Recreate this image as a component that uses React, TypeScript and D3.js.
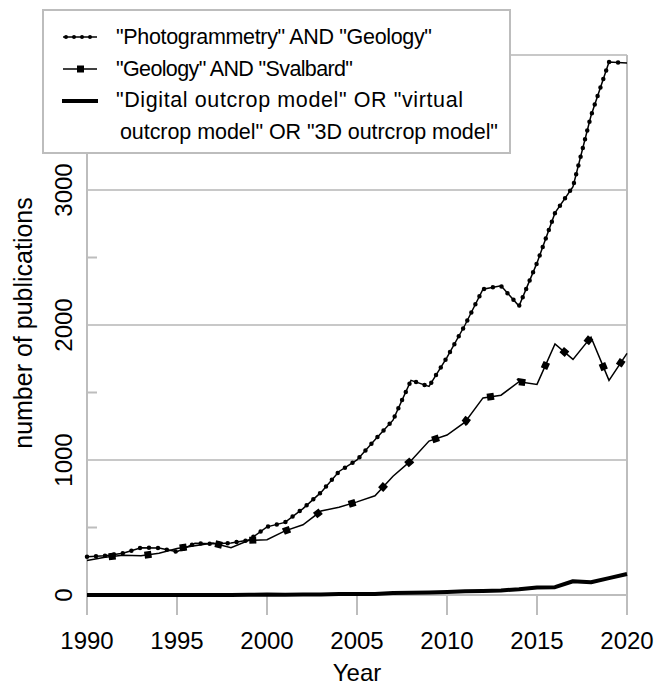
import * as d3 from 'd3'

const years = [
  1990, 1991, 1992, 1993, 1994, 1995, 1996, 1997, 1998, 1999, 2000, 2001, 2002, 2003, 2004, 2005,
  2006, 2007, 2008, 2009, 2010, 2011, 2012, 2013, 2014, 2015, 2016, 2017, 2018, 2019, 2020,
]
const photogrammetry = [
  284, 290, 310, 350, 348, 320, 383, 380, 385, 407, 505, 538, 640, 760, 915, 1000,
  1150, 1295, 1590, 1545, 1760, 2000, 2265, 2290, 2140, 2460, 2830, 3025, 3550, 3948, 3940,
]
const svalbard = [
  255, 280, 295, 290, 310, 345, 365, 385, 350, 405, 410, 475, 520, 622, 650, 690,
  735, 880, 995, 1140, 1185, 1280, 1460, 1480, 1580, 1560, 1860, 1745, 1910, 1590, 1790,
]
const outcrop = [
  0, 0, 0, 0, 0, 0, 0, 0, 0, 1, 3, 2, 3, 3, 8, 7,
  7, 15, 16, 18, 22, 28, 30, 34, 42, 55, 58, 102, 94, 125, 155,
]
const xTicks = [1990, 1995, 2000, 2005, 2010, 2015, 2020]
const yTicks = [0, 1000, 2000, 3000]
const yMinor = [500, 1500, 2500, 3500]
const legendLabels = [
  '"Photogrammetry" AND "Geology"',
  '"Geology" AND "Svalbard"',
  '"Digital outcrop model" OR "virtual',
  ' outcrop model" OR "3D outrcrop model"',
]
// measured label widths in the reference legend
const legendWidths = [316, 237, 347, 384]

const W = 659
const H = 685
const FONT = "'Liberation Sans', Arial, sans-serif"
const GRID = '#c8c8c8'
const AXIS = '#bdbdbd'

export default function App() {
  const x = d3.scaleLinear().domain([1990, 2020]).range([87, 627])
  const y = d3.scaleLinear().domain([0, 4000]).range([595, 55])

  const line = (vals: number[]) =>
    d3.line<number>().x((_, i) => x(years[i])).y(d => y(d))(vals) ?? ''

  const pPath = line(photogrammetry)
  const sPath = line(svalbard)
  const oPath = line(outcrop)

  return (
    <svg width={W} height={H} style={{ position: 'absolute', left: 0, top: 0, background: '#fff' }}
      fontFamily={FONT}>
      {/* grid */}
      {[1000, 2000, 3000, 4000].map(v => (
        <line key={v} x1={x(1990)} x2={x(2020)} y1={y(v)} y2={y(v)} stroke={GRID} strokeWidth={2} />
      ))}
      {/* axes and frame */}
      <line x1={x(1990)} x2={x(1990)} y1={y(4000)} y2={y(0) + 20} stroke={AXIS} strokeWidth={2} />
      <line x1={x(2020)} x2={x(2020)} y1={y(4000)} y2={y(0) + 20} stroke={AXIS} strokeWidth={2} />
      <line x1={x(1990)} x2={x(2020)} y1={y(0)} y2={y(0)} stroke={AXIS} strokeWidth={2} />
      {xTicks.map(t => (
        <line key={t} x1={x(t)} x2={x(t)} y1={y(0)} y2={y(0) + 20} stroke={AXIS} strokeWidth={2} />
      ))}
      {yMinor.map(t => (
        <line key={t} x1={x(1990)} x2={x(1990) + 10} y1={y(t)} y2={y(t)} stroke={AXIS} strokeWidth={2} />
      ))}

      {/* tick labels */}
      {xTicks.map(t => (
        <text key={t} x={x(t)} y={649} textAnchor="middle" fontSize={24} fill="#000">{t}</text>
      ))}
      {yTicks.map(t => (
        <text key={t} transform={`translate(71.5,${y(t)}) rotate(-90)`} textAnchor="middle"
          fontSize={24} fill="#000">{t}</text>
      ))}
      <text x={357} y={681} textAnchor="middle" fontSize={24} fill="#000">Year</text>
      <text transform="translate(32,323) rotate(-90)" textAnchor="middle" fontSize={25} fill="#000">
        number of publications
      </text>

      {/* series */}
      <path d={oPath} fill="none" stroke="#000" strokeWidth={4} strokeLinejoin="round" />
      <path d={sPath} fill="none" stroke="#000" strokeWidth={1.5} />
      <path d={sPath} fill="none" stroke="#000" strokeWidth={7} strokeDasharray="7 29"
        strokeDashoffset={14} />
      <path d={pPath} fill="none" stroke="#000" strokeWidth={1.5} />
      <path d={pPath} fill="none" stroke="#000" strokeWidth={4.5} strokeLinecap="round"
        strokeDasharray="0 9" />

      {/* legend */}
      <rect x={43} y={10} width={467} height={143} fill="#fff" stroke={AXIS} strokeWidth={2} />
      <line x1={63} x2={97} y1={37} y2={37} stroke="#000" strokeWidth={1.5} />
      <line x1={66} x2={97} y1={37} y2={37} stroke="#000" strokeWidth={4} strokeLinecap="round"
        strokeDasharray="0 8" />
      <line x1={63} x2={97} y1={69} y2={69} stroke="#000" strokeWidth={1.5} />
      <rect x={77} y={65.5} width={7} height={7} fill="#000" />
      <line x1={62} x2={98} y1={101} y2={101} stroke="#000" strokeWidth={4} />
      {legendLabels.map((l, i) => (
        <text key={i} x={i === 3 ? 114 : 116} y={44 + i * 31.5} fontSize={21.5} fill="#000"
          textLength={legendWidths[i]} lengthAdjust="spacing"
          style={{ whiteSpace: 'pre' }}>{l}</text>
      ))}
    </svg>
  )
}
